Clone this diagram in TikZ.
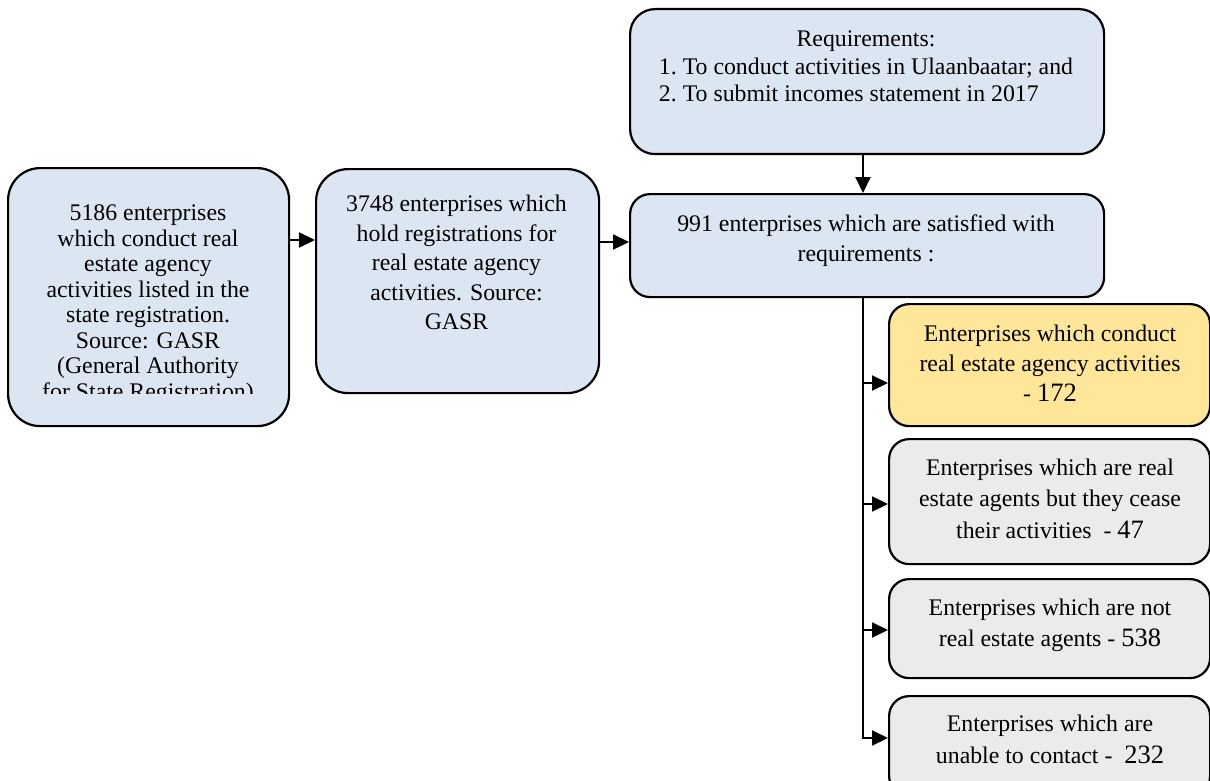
\documentclass[tikz,border=0pt]{standalone}
\usepackage{fontspec}
\setmainfont{Liberation Serif}
\usetikzlibrary{arrows.meta}
\definecolor{boxblue}{HTML}{DCE6F2}
\definecolor{boxyellow}{HTML}{FFE699}
\definecolor{boxgrey}{HTML}{EBEBEB}
\newcommand\ts{\rule{0pt}{20pt}}
\newcommand\nf{\fontsize{26.5}{30}\selectfont}
\begin{document}
\begin{tikzpicture}[x=1pt,y=-1pt,
  box/.style={draw=black, line width=2.2pt, rounded corners=#1, inner sep=0pt, anchor=north west, rectangle},
  box/.default=20pt,
  txt/.style={anchor=north, align=center, inner sep=0pt, font=\fontsize{23.8}{#1}\selectfont},
  conn/.style={line width=2pt},
  arr/.style={conn, -{Triangle[length=16pt,width=15pt]}}]
\useasboundingbox (0,0) rectangle (1210,781);

% boxes
\node[box=32pt, fill=boxblue, minimum width=281pt, minimum height=258pt] (A) at (7,167) {};
\node[box=32pt, fill=boxblue, minimum width=283pt, minimum height=224pt] (B) at (315,168) {};
\node[box=25pt, fill=boxblue, minimum width=474pt, minimum height=145pt] (C) at (629,8) {};
\node[box=20pt, fill=boxblue, minimum width=474pt, minimum height=103pt] (D) at (629,193) {};
\node[box=20pt, fill=boxyellow, minimum width=321pt, minimum height=122pt] (E1) at (888,303) {};
\node[box=20pt, fill=boxgrey, minimum width=321pt, minimum height=125pt] (E2) at (888,438) {};
\node[box=20pt, fill=boxgrey, minimum width=321pt, minimum height=99pt] (E3) at (888,578) {};
\node[box=20pt, fill=boxgrey, minimum width=321pt, minimum height=100pt] (E4) at (888,695) {};

% texts
\begin{scope}
\clip (10,170) rectangle (285,393);
\node[txt=25.5] (At) at (148,200.7) {\ts 5186 enterprises\\which conduct real\\estate agency\\activities listed in the\\state registration.\\Source: GASR\\(General Authority\\for State Registration)};
\end{scope}
\node[txt=29.5] (Bt) at (456.5,191.7) {\ts 3748 enterprises which\\hold registrations for\\real estate agency\\activities. Source:\\GASR};
\node[txt=27.5] (Ct) at (866,26.7) {\begin{tabular}{@{}l@{}}\multicolumn{1}{@{}c@{}}{\ts Requirements:}\\1.\ To conduct activities in Ulaanbaatar; and\\2.\ To submit incomes statement in 2017\end{tabular}};
\node[txt=30] (Dt) at (866,211.7) {\ts 991 enterprises which are satisfied with\\requirements :};
\node[txt=30] (E1t) at (1050,321.7) {\ts Enterprises which conduct\\real estate agency activities\\- {\nf 172}};
\node[txt=31.5] (E2t) at (1050,455) {\ts Enterprises which are real\\estate agents but they cease\\their activities\ \ - {\nf 47}};
\node[txt=31.7] (E3t) at (1050,595) {\ts Enterprises which are not\\real estate agents - {\nf 538}};
\node[txt=31.6] (E4t) at (1050,711.7) {\ts Enterprises which are\\unable to contact -\ \ {\nf 232}};

% connectors
\coordinate (tx) at (863,0);
\coordinate (yab) at (0,240);
\coordinate (ybd) at (0,242);
\coordinate (y1) at (0,383);
\coordinate (y2) at (0,504);
\coordinate (y3) at (0,630);
\coordinate (y4) at (0,738);
\draw[arr] (A.east |- yab) -- (B.west |- yab);
\draw[arr] (B.east |- ybd) -- (D.west |- ybd);
\draw[arr] (tx |- C.south) -- (tx |- D.north);
\draw[arr] (tx |- D.south) -- (tx |- y4) -- (E4.west |- y4);
\draw[arr] (tx |- y1) -- (E1.west |- y1);
\draw[arr] (tx |- y2) -- (E2.west |- y2);
\draw[arr] (tx |- y3) -- (E3.west |- y3);
\end{tikzpicture}
\end{document}
